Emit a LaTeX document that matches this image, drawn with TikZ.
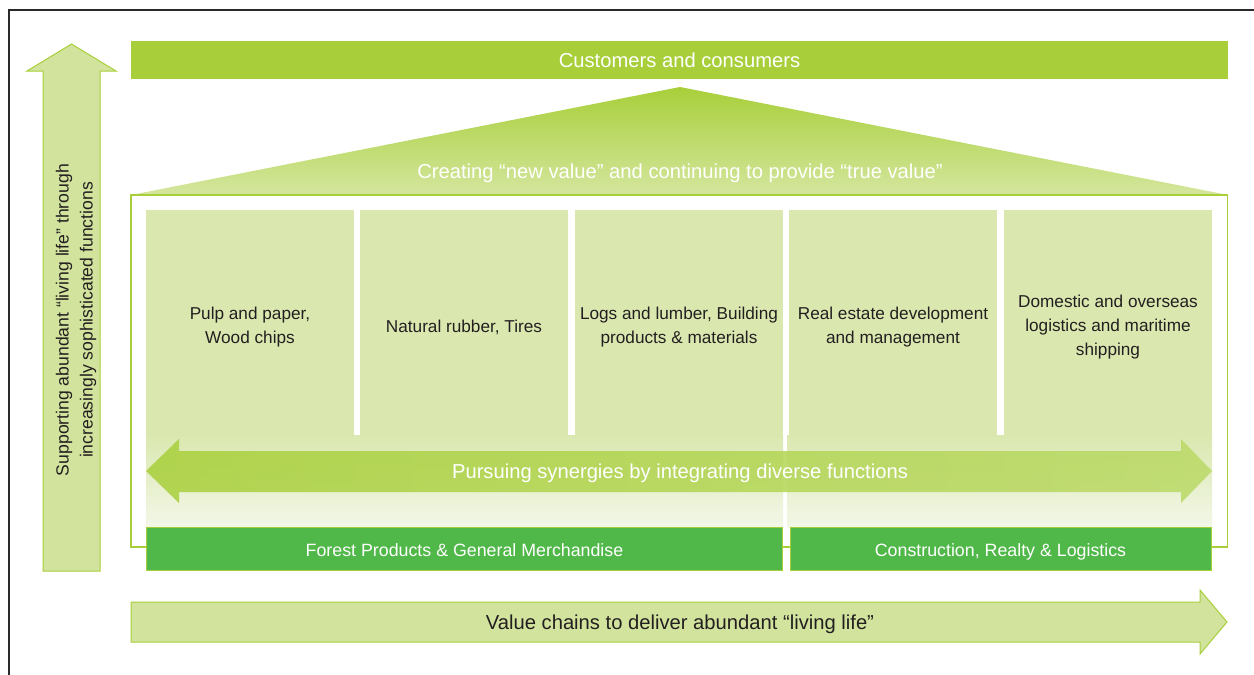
\documentclass[tikz,border=0pt]{standalone}
\usepackage{fontspec}
\setmainfont{Liberation Sans}
\definecolor{lime}{HTML}{A8CF3A}
\definecolor{pale}{HTML}{DAE8B0}
\definecolor{arrowfill}{HTML}{D2E39D}
\definecolor{bargreen}{HTML}{50B848}
\definecolor{txt}{HTML}{231F20}
\definecolor{roofbot}{HTML}{D4E69E}
\definecolor{fadebot}{HTML}{F3F7E8}
\definecolor{synmid}{HTML}{C6E07E}
\definecolor{synright}{HTML}{BAD966}
\definecolor{framecol}{HTML}{2A2A2A}
\tikzset{
  bigtext/.style={font=\fontsize{20.2}{24}\selectfont},
  midtext/.style={font=\fontsize{17.2}{24}\selectfont},
  bartext/.style={font=\fontsize{17.8}{24}\selectfont},
  colbox/.style={fill=pale, draw=none, inner sep=0pt,
    minimum width=208pt, minimum height=226pt},
  coltext/.style={text=txt, align=center, midtext, inner sep=0pt},
  barbox/.style={fill=bargreen, draw=lime, line width=1pt, inner sep=0pt,
    text=white, bartext, minimum height=43pt, text height=19pt, text depth=4pt},
  bigarrow/.style={fill=arrowfill, draw=lime, line width=1pt, line join=miter}
}
\begin{document}
\begin{tikzpicture}[x=1pt,y=-1pt]
\useasboundingbox (0,0) rectangle (1254,675);
\fill[white] (0,0) rectangle (1254,675);
% frame
\draw[framecol, line width=1.5pt] (9,675) -- (9,10) -- (1254,10);

% top bar
\node[fill=lime, inner sep=0pt, minimum width=1097pt, minimum height=38pt,
  text=white, bigtext, text height=18pt, text depth=4pt] (cust) at (679.5,60) {Customers and consumers};

% roof
\shade[top color=lime, bottom color=roofbot] (131,195) -- (680,87) -- (1228,195) -- cycle;
\node[text=white, bigtext] (roof) at (680,173)
  {Creating “new value” and continuing to provide “true value”};

% house
\filldraw[fill=white, draw=lime, line width=1.5pt] (131,195) rectangle (1227.5,547);

% columns
\node[colbox] (c1) at (250,323) {};
\node[colbox] (c2) at (464,323) {};
\node[colbox] (c3) at (679,323) {};
\node[colbox] (c4) at (893,323) {};
\node[colbox] (c5) at (1108,323) {};
\node[coltext] (t1) at ([yshift=-4pt]c1.center) {Pulp and paper,\\Wood chips};
\node[coltext] (t2) at ([yshift=-4pt]c2.center) {Natural rubber, Tires};
\node[coltext] (t3) at ([yshift=-4pt]c3.center) {Logs and lumber, Building\\products \& materials};
\node[coltext] (t4) at ([yshift=-4pt]c4.center) {Real estate development\\and management};
\node[coltext] (t5) at ([yshift=-4pt]c5.center) {Domestic and overseas\\logistics and maritime\\shipping};

% lower panels
\shade[top color=pale, bottom color=fadebot] (146,435.5) rectangle (783,527);
\shade[top color=pale, bottom color=fadebot] (787,435.5) rectangle (1212,527);

% synergy double arrow
\shade[left color=lime, middle color=synmid, right color=synright, fill opacity=0.85]
  (146,471) -- (179,439) -- (179,451) -- (1181,451) -- (1181,439) -- (1212,471)
  -- (1181,503) -- (1181,492) -- (179,492) -- (179,503) -- cycle;
\node[text=white, bigtext] (syn) at (680,473)
  {Pursuing synergies by integrating diverse functions};

% bottom bars
\node[barbox, minimum width=636pt] (forest) at (464.5,548.5)
  {Forest Products \& General Merchandise};
\node[barbox, minimum width=421pt] (constr) at (1000.5,548.5)
  {Construction, Realty \& Logistics};

% left vertical arrow
\filldraw[bigarrow] (43,571) -- (43,71) -- (27,71) -- (71.5,44) -- (116,71)
  -- (100,71) -- (100,571) -- cycle;
\node[rotate=90, text=txt, font=\fontsize{17.6}{24}\selectfont, align=center] (support) at (76,320)
  {Supporting abundant “living life” through\\increasingly sophisticated functions};

% bottom horizontal arrow
\filldraw[bigarrow] (131,602) -- (1200,602) -- (1200,590) -- (1227,622)
  -- (1200,654) -- (1200,642) -- (131,642) -- cycle;
\node[text=txt, bigtext] (chain) at (680,624)
  {Value chains to deliver abundant “living life”};
\end{tikzpicture}
\end{document}
